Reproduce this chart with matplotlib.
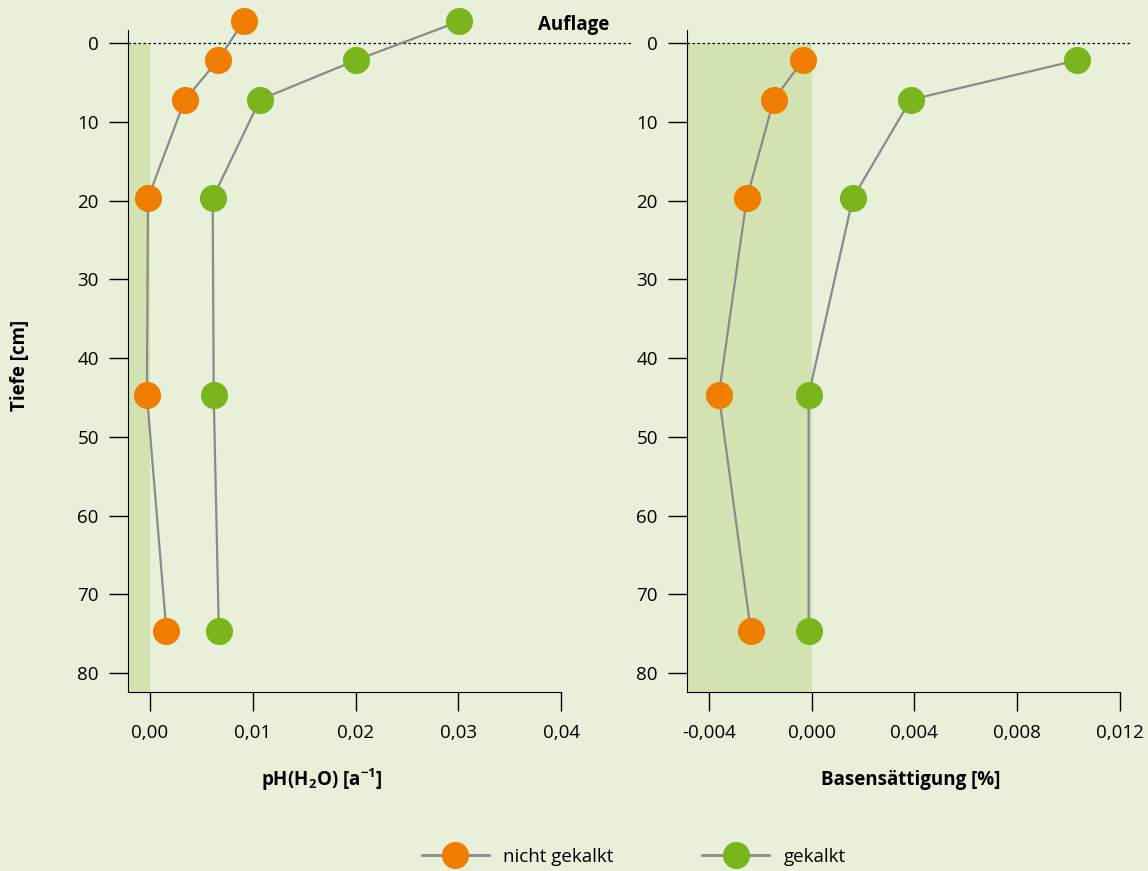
import matplotlib
matplotlib.use('Agg')
import matplotlib.pyplot as plt
from matplotlib.lines import Line2D

# depth of each sample in cm (negative = Auflage above mineral soil)
depth_ph = [-2.75, 2.2, 7.2, 19.7, 44.7, 74.7]
ph_nicht = [0.0091, 0.0066, 0.0034, -0.0002, -0.0003, 0.0016]
ph_gekalkt = [0.0301, 0.0200, 0.0107, 0.0061, 0.0062, 0.0067]

depth_bs = [2.2, 7.2, 19.7, 44.7, 74.7]
bs_nicht = [-0.00035, -0.00148, -0.00253, -0.00362, -0.00237]
bs_gekalkt = [0.01032, 0.00385, 0.0016, -0.00012, -0.00012]

depth_ticks = [0, 10, 20, 30, 40, 50, 60, 70, 80]
ph_ticks = [0.0, 0.01, 0.02, 0.03, 0.04]
ph_labels = ['0,00', '0,01', '0,02', '0,03', '0,04']
bs_ticks = [-0.004, 0.0, 0.004, 0.008, 0.012]
bs_labels = ['-0,004', '0,000', '0,004', '0,008', '0,012']

bg = '#e9f0d9'
shade = '#d3e2b1'
orange = '#ef7d00'
green = '#7ab51d'
grey = '#8a8a8a'

fs = 13.5
plt.rcParams['font.family'] = ['Open Sans', 'DejaVu Sans']
plt.rcParams['font.size'] = fs
plt.rcParams['mathtext.fontset'] = 'custom'
plt.rcParams['mathtext.bf'] = 'Open Sans:bold'
plt.rcParams['mathtext.rm'] = 'Open Sans'

fig = plt.figure(figsize=(11.48, 8.71), dpi=100, facecolor=bg)

ybot = 82.4
ytop = -4.5


def setup(ax, xlo, xhi, xend, ticks, labels):
    ax.set_facecolor(bg)
    ax.set_xlim(xlo, xhi)
    ax.set_ylim(ybot, ytop)
    ax.spines['top'].set_visible(False)
    ax.spines['right'].set_visible(False)
    ax.spines['left'].set_bounds(ybot, -1.7)
    ax.spines['bottom'].set_bounds(xlo, xend)
    ax.set_yticks(depth_ticks)
    ax.set_xticks(ticks)
    ax.set_xticklabels(labels)
    ax.tick_params(direction='out', length=14, width=1, pad=7, labelsize=fs)
    ax.tick_params(axis='x', pad=9)
    ax.fill_betweenx([0, ybot], xlo, 0, color=shade, lw=0, zorder=0)
    ax.axhline(0, color='black', lw=0.9, dashes=(2, 2), zorder=1)


def series(ax, x, y, color):
    ax.plot(x, y, color=grey, lw=1.6, marker='o', ms=18.5,
            mfc=color, mec=color, clip_on=False, zorder=3)


ax1 = fig.add_axes([128/1148, 1-692/871, (633-128)/1148, (692-7.6)/871])
setup(ax1, -0.00214, 0.0470, 0.04, ph_ticks, ph_labels)
series(ax1, ph_nicht, depth_ph, orange)
series(ax1, ph_gekalkt, depth_ph, green)
ax1.text(0.0412, -2.3, 'Auflage', ha='center', va='center',
         fontweight='bold', fontsize=fs)

ax2 = fig.add_axes([687/1148, 1-692/871, (1130-687)/1148, (692-7.6)/871])
setup(ax2, -0.00486, 0.0124, 0.012, bs_ticks, bs_labels)
series(ax2, bs_nicht, depth_bs, orange)
series(ax2, bs_gekalkt, depth_bs, green)

fig.text(322/1148, 1-780/871, r'pH(H$_\mathbf{2}$O) [a$^{\mathbf{-1}}$]',
         ha='center', va='center', fontweight='bold', fontsize=fs)
fig.text(911/1148, 1-780/871, 'Basensättigung [%]',
         ha='center', va='center', fontweight='bold', fontsize=fs)
fig.text(20/1148, 1-365/871, 'Tiefe [cm]', rotation=90,
         ha='center', va='center', fontweight='bold', fontsize=fs)

handles = [Line2D([], [], color=grey, lw=2, marker='o', ms=18.5, mfc=c, mec=c)
           for c in (orange, green)]
fig.legend(handles, ['nicht gekalkt', 'gekalkt'], loc='center left',
           bbox_to_anchor=(422/1148, 1-857/871), ncol=2, frameon=False,
           borderpad=0, borderaxespad=0,
           handlelength=3.57, handletextpad=0.75, columnspacing=4.75,
           fontsize=fs)

fig.savefig('out.png', dpi=100, facecolor=bg)
